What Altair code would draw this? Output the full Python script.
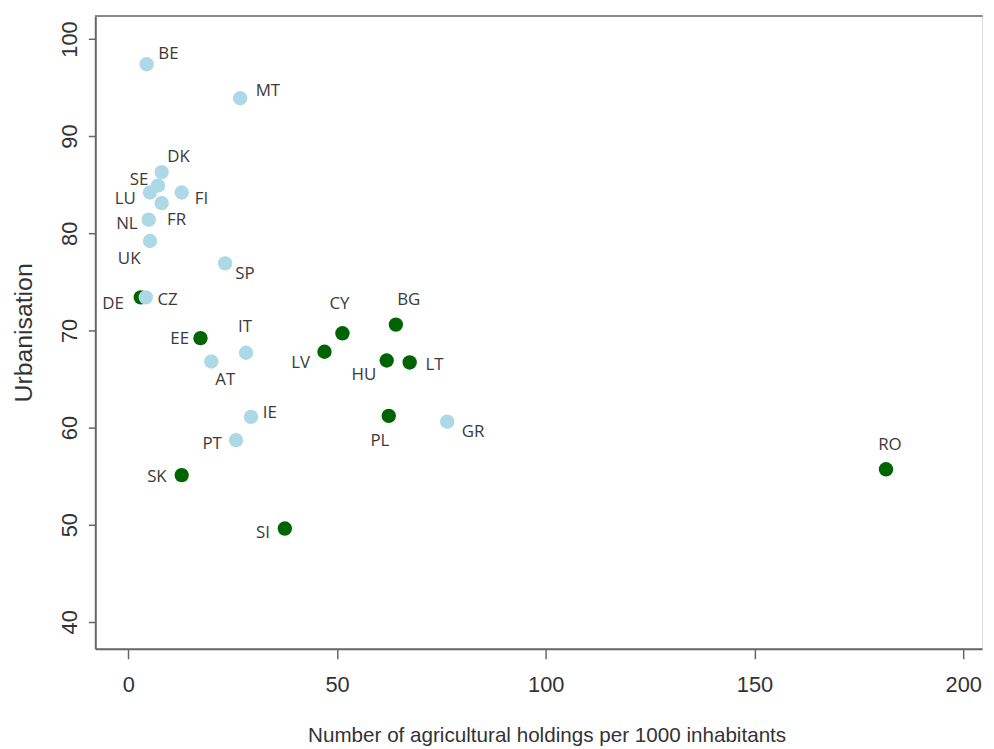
import altair as alt
import pandas as pd

# Country codes, agricultural holdings per 1000 inhabitants, urbanisation (%)
countries = ["BE", "MT", "DK", "SE", "LU", "FI", "FR", "NL", "UK", "SP",
             "CZ", "DE", "EE", "AT", "IT", "CY", "LV", "BG", "HU", "LT",
             "PL", "GR", "IE", "PT", "SK", "SI", "RO"]
holdings = [4.4, 26.8, 8.0, 7.1, 5.2, 12.8, 8.0, 4.9, 5.2, 23.2,
            3.0, 4.2, 17.3, 19.9, 28.2, 51.3, 47.0, 64.1, 61.9, 67.4,
            62.4, 76.4, 29.4, 25.8, 12.8, 37.5, 181.5]
urbanisation = [97.4, 93.9, 86.3, 84.9, 84.2, 84.2, 83.1, 81.4, 79.2, 76.9,
                73.4, 73.4, 69.2, 66.8, 67.7, 69.7, 67.8, 70.6, 66.9, 66.7,
                61.2, 60.6, 61.1, 58.7, 55.1, 49.6, 55.7]
group = ["old", "old", "old", "old", "old", "old", "old", "old", "old", "old",
         "new", "old", "new", "old", "old", "new", "new", "new", "new", "new",
         "new", "old", "old", "old", "new", "new", "new"]
# label placement offsets (pixels) relative to each point
label_dx = [22, 28, 17, -19, -25, 20, 15, -22, -21, 20,
            27, -33, -21, 14, -1, -3, -24, 13, -23, 25,
            -9, 26, 19, -24, -25, -22, 4]
label_dy = [-10, -7, -15, -6, 7, 7, 17, 4, 18, 11,
            3, 7, 1, 19, -26, -30, 11, -25, 15, 3,
            25, 10, -4, 4, 2, 5, -24]

x_ticks = [0, 50, 100, 150, 200]
y_ticks = [40, 50, 60, 70, 80, 90, 100]

df = pd.DataFrame({
    "country": countries,
    "holdings": holdings,
    "urbanisation": urbanisation,
    "group": group,
    "dx": label_dx,
    "dy": label_dy,
    "order": list(range(len(countries))),
})

W, H = 894, 638
X_DOM = [-7.9, 204.5]
Y_DOM = [37.22, 102.37]
PX_PER_X = W / (X_DOM[1] - X_DOM[0])
PX_PER_Y = H / (Y_DOM[1] - Y_DOM[0])
axis_font = "Liberation Sans, Arial, sans-serif"

x_scale = alt.Scale(domain=X_DOM, nice=False, zero=False)
y_scale = alt.Scale(domain=Y_DOM, nice=False, zero=False)

x_enc = alt.X("holdings:Q", scale=x_scale,
              axis=alt.Axis(values=x_ticks, title="Number of agricultural holdings per 1000 inhabitants",
                            grid=False, domainColor="#666666", domainWidth=2,
                            tickColor="#666666", tickWidth=1.5, tickSize=10,
                            labelFont=axis_font, labelFontSize=22, labelColor="#333333",
                            labelPadding=16,
                            titleFont=axis_font, titleFontSize=20.8, titleColor="#333333",
                            titleFontWeight="normal", titlePadding=30, titleX=455))
y_enc = alt.Y("urbanisation:Q", scale=y_scale,
              axis=alt.Axis(values=y_ticks, title="Urbanisation",
                            grid=False, domainColor="#666666", domainWidth=2,
                            tickColor="#666666", tickWidth=1.5, tickSize=7,
                            labelFont=axis_font, labelFontSize=22, labelColor="#333333",
                            labelAngle=-90, labelAlign="center", labelBaseline="bottom",
                            labelPadding=7,
                            titleFont=axis_font, titleFontSize=25, titleColor="#333333",
                            titleFontWeight="normal", titlePadding=22))

base = alt.Chart(df)

points = base.mark_circle(size=210, opacity=1).encode(
    x=x_enc,
    y=y_enc,
    color=alt.Color("group:N",
                    scale=alt.Scale(domain=["old", "new"], range=["#add8e6", "#006400"]),
                    legend=None),
    order=alt.Order("order:Q"),
)

labels = base.transform_calculate(
    lx=f"datum.holdings + datum.dx / {PX_PER_X}",
    ly=f"datum.urbanisation - datum.dy / {PX_PER_Y}",
).mark_text(font="Open Sans", fontSize=17, color="#3a3a3a").encode(
    x=alt.X("lx:Q", scale=x_scale),
    y=alt.Y("ly:Q", scale=y_scale),
    text="country:N",
)

top_line = base.mark_rule(color="#888888", strokeWidth=2).encode(
    x=alt.value(0), x2=alt.value(W), y=alt.value(0)
)

chart = alt.layer(top_line, points, labels).properties(
    width=W, height=H,
    autosize=alt.AutoSizeParams(type="none"),
    padding={"left": 88, "top": 5, "right": 4, "bottom": 100},
).configure_view(stroke=None).configure(background="white")

chart.save("out.html", embed_options={"renderer": "svg", "actions": False})
